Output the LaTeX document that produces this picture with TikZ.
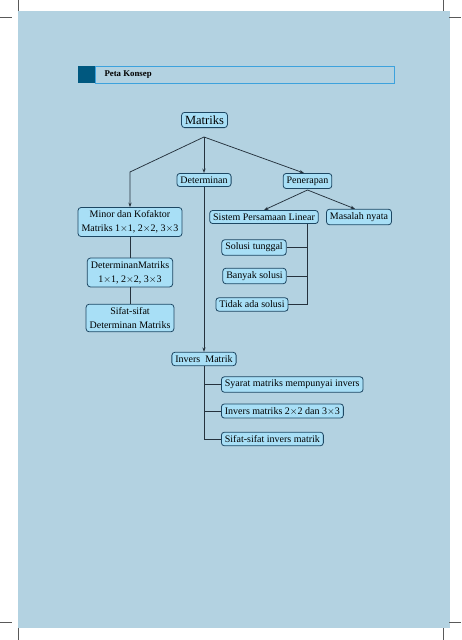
\documentclass[tikz,border=0pt]{standalone}
\usepackage{fontspec}
\setmainfont{Liberation Serif}
\usepackage{xcolor}
\usetikzlibrary{arrows.meta}
\definecolor{pagebg}{HTML}{B3D2E1}
\definecolor{boxfill}{HTML}{A8DFF6}
\definecolor{boxline}{HTML}{1D4763}
\definecolor{linkcol}{HTML}{25323D}
\definecolor{headdark}{HTML}{00587F}
\definecolor{headline}{HTML}{3DA2DD}
\tikzset{main/.style={draw=boxline, fill=boxfill, rounded corners=3pt, line width=0.8pt, inner xsep=3.5pt, inner ysep=3.2pt, font=\fontsize{10}{14}\selectfont, align=center},
	link/.style={draw=linkcol, line width=0.75pt},
	arr/.style={link, -{Stealth[length=4.5pt,width=3.2pt]}}}

\begin{document}
\begin{tikzpicture}[x=1pt,y=-1pt]
		\useasboundingbox (0,0) rectangle (461,640);
		\fill[pagebg] (18,11) rectangle (450,628);
		% crop marks
		\draw[gray!70!black, line width=0.6pt] (0,17) -- (12,17) (449,17) -- (461,17) (18,0) -- (18,11) (443,0) -- (443,11);
		\draw[gray!70!black, line width=0.6pt] (0,622) -- (12,622) (449,622) -- (461,622) (18,628) -- (18,640) (443,628) -- (443,640);
		
		% header
		\fill[headdark] (78,66) rectangle (95,83);
		\draw[headline, line width=0.8pt] (95,66) rectangle (394,83);
		\node[anchor=west, font=\bfseries\fontsize{8.8}{10}\selectfont] (head) at (101,74.5) {Peta Konsep};
		
		\node[main, font=\fontsize{12.5}{14}\selectfont] (mat) at (204.5,120) {Matriks};
		\node[main] (det) at (204,180) {Determinan};
		\node[main] (pen) at (307.5,181) {Penerapan};
		\node[main] (minor) at (130,222) {Minor dan Kofaktor\\Matriks 1$\times$1, 2$\times$2, 3$\times$3};
		\node[main] (detm) at (130,272.5) {DeterminanMatriks\\1$\times$1, 2$\times$2, 3$\times$3};
		\node[main] (sifat) at (130,318) {Sifat-sifat\\Determinan Matriks};
		\node[main] (spl) at (264,217) {Sistem Persamaan Linear};
		\node[main] (nyata) at (359,217) {Masalah nyata};
		\node[main] (tunggal) at (254,247.5) {Solusi tunggal};
		\node[main] (banyak) at (254.5,276) {Banyak solusi};
		\node[main] (tidak) at (252,304.5) {Tidak ada solusi};
		\node[main] (inv) at (204,359) {Invers~~Matrik};
		\node[main, anchor=west] (syarat) at (221,384.5) {Syarat matriks mempunyai invers};
		\node[main, anchor=west] (inv23) at (221,411) {Invers matriks 2$\times$2 dan 3$\times$3};
		\node[main, anchor=west] (sifinv) at (221,439) {Sifat-sifat invers matrik};
		
		\coordinate (top) at (204,137);
		\coordinate (bend) at (130,172);
		\coordinate (pensplit) at (307.5,190);
		\draw[arr] (top) -- (bend) -- (minor.north);
		\draw[arr] (top) -- (det.north);
		\draw[arr] (top) -- (pen.north west -| 304,0);
		\draw[arr] (pensplit) -- (spl.north);
		\draw[arr] (pensplit) -- (nyata.north -| 355,0);
		\draw[link] (minor) -- (detm) (detm) -- (sifat);
		\draw[arr] (det) -- (inv);
		
		\coordinate (splend) at (307,304.5);
		\draw[link] (spl.south -| splend) -- (splend) -- (tidak.east);
		\draw[link] (tunggal.east) -- (tunggal.east -| splend) (banyak.east) -- (banyak.east -| splend);
		
		\coordinate (invend) at (204,439);
		\draw[link] (inv) -- (invend) -- (sifinv.west);
		\draw[link] (syarat.west) -- (syarat.west -| invend) (inv23.west) -- (inv23.west -| invend);
	\end{tikzpicture}
\end{document}
